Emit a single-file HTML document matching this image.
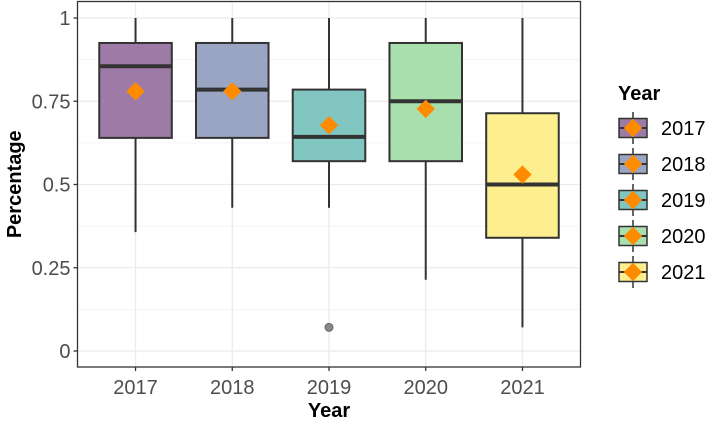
<!DOCTYPE html>
<html><head><meta charset="utf-8"><style>body{margin:0;background:#fff}svg{display:block;font-family:"Liberation Sans",Arial,sans-serif}</style></head>
<body>
<svg id="c" width="709" height="421" xmlns="http://www.w3.org/2000/svg"></svg>
<script>
const years=["2017","2018","2019","2020","2021"];
const q1=[0.64,0.64,0.57,0.57,0.34];
const med=[0.855,0.785,0.643,0.75,0.5];
const q3=[0.925,0.925,0.785,0.925,0.714];
const wlo=[0.357,0.43,0.43,0.214,0.071];
const whi=[1,1,1,1,1];
const means=[0.78,0.78,0.678,0.727,0.53];
const outliers=[[],[],[0.071],[],[]];
const yTicks=[0,0.25,0.5,0.75,1];
const yTickLabels=["0","0.25","0.5","0.75","1"];
const fills=["#9e7aa6","#9aa5c4","#80c5c0","#a9dfac","#fdee8f"];
const svg=document.getElementById('c');const NS="http://www.w3.org/2000/svg";
const L=77.5,R=580.5,T=1.5,B=367;
const y=v=>351-v*333;const step=(R-L)/(years.length+0.2);const x=i=>L+step*(i+0.6);
function mk(t,a,p){const e=document.createElementNS(NS,t);for(const k in a)e.setAttribute(k,a[k]);(p||svg).appendChild(e);return e;}
const grid=mk('g',{});


for(let i=0;i<yTicks.length-1;i++){mk('line',{x1:L,x2:R,y1:y((yTicks[i]+yTicks[i+1])/2),y2:y((yTicks[i]+yTicks[i+1])/2),stroke:'#f0f0f0','stroke-width':0.8},grid);}
yTicks.forEach(v=>mk('line',{x1:L,x2:R,y1:y(v),y2:y(v),stroke:'#ebebeb','stroke-width':1.3},grid));
years.forEach((_,i)=>mk('line',{x1:x(i),x2:x(i),y1:T,y2:B,stroke:'#ebebeb','stroke-width':1.3},grid));
const hw=step*0.375;
years.forEach((yr,i)=>{const g=mk('g',{});


mk('line',{x1:x(i),x2:x(i),y1:y(whi[i]),y2:y(q3[i]),stroke:'#333','stroke-width':2},g);
mk('line',{x1:x(i),x2:x(i),y1:y(q1[i]),y2:y(wlo[i]),stroke:'#333','stroke-width':2},g);
mk('rect',{x:x(i)-hw,y:y(q3[i]),width:2*hw,height:y(q1[i])-y(q3[i]),fill:fills[i],stroke:'#333','stroke-width':2},g);
mk('line',{x1:x(i)-hw,x2:x(i)+hw,y1:y(med[i]),y2:y(med[i]),stroke:'#333','stroke-width':4},g);
outliers[i].forEach(o=>{const c=mk('circle',{cx:x(i),cy:y(o),r:4,fill:'#888',stroke:'#666'},g);});
const d=mk('rect',{x:x(i)-6.5,y:y(means[i])-6.5,width:13,height:13,fill:'#ff8c00',transform:`rotate(45 ${x(i)} ${y(means[i])})`},g);


});
mk('rect',{x:L,y:T,width:R-L,height:B-T,fill:'none',stroke:'#333','stroke-width':1.3});
yTicks.forEach((v,i)=>{mk('line',{x1:L-4,x2:L,y1:y(v),y2:y(v),stroke:'#333','stroke-width':1.3});
const t=mk('text',{x:L-7,y:y(v)+7,'text-anchor':'end','font-size':20,fill:'#4d4d4d'});t.textContent=yTickLabels[i];

});
years.forEach((yr,i)=>{mk('line',{x1:x(i),x2:x(i),y1:B,y2:B+4,stroke:'#333','stroke-width':1.3});
const t=mk('text',{x:x(i),y:B+27,'text-anchor':'middle','font-size':20,fill:'#4d4d4d'});t.textContent=yr;

});
const xt=mk('text',{x:(L+R)/2,y:417,'text-anchor':'middle','font-size':20,'font-weight':'bold'});xt.textContent='Year';


const yt=mk('text',{x:0,y:0,'text-anchor':'middle','font-size':20,'font-weight':'bold',transform:`translate(21 ${(T+B)/2}) rotate(-90)`});yt.textContent='Percentage';


const lg=mk('g',{});


const lt=mk('text',{x:618,y:100,'font-size':20,'font-weight':'bold'},lg);lt.textContent='Year';
years.forEach((yr,i)=>{const cy=128+i*36;const e=mk('g',{},lg);


mk('line',{x1:633,x2:633,y1:cy-16,y2:cy+16,stroke:'#333','stroke-width':1.5},e);
mk('rect',{x:619,y:cy-9.5,width:28,height:19,fill:fills[i],stroke:'#333','stroke-width':1.5},e);
mk('line',{x1:619,x2:647,y1:cy,y2:cy,stroke:'#333','stroke-width':2},e);
mk('rect',{x:626.5,y:cy-6.5,width:13,height:13,fill:'#ff8c00',transform:`rotate(45 633 ${cy})`},e);
const t=mk('text',{x:661,y:cy+7,'font-size':20,fill:'#000'},e);t.textContent=yr;});
</script>
</body></html>
